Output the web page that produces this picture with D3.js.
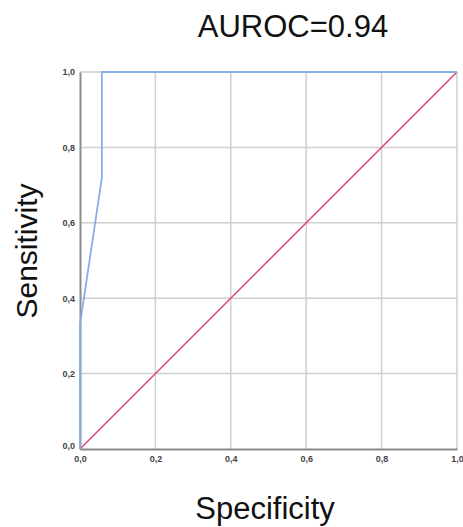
<!DOCTYPE html>
<html>
<head>
<meta charset="utf-8">
<script src="https://cdn.jsdelivr.net/npm/d3@7"></script>
<style>
  body { margin: 0; background: #fff; }
  text { font-family: "Liberation Sans", Arial, sans-serif; }
</style>
</head>
<body>
<div id="chart"></div>
<script>
// data
var rocFpr = [0, 0, 0.058, 0.058, 1];
var rocTpr = [0, 0.33, 0.72, 1, 1];
var refLine = [0, 1];
var tickValues = [0, 0.2, 0.4, 0.6, 0.8, 1];
var tickLabels = ["0,0", "0,2", "0,4", "0,6", "0,8", "1,0"];
var titleText = "AUROC=0.94";

var width = 463, height = 527;
var margin = { top: 72, right: 6, bottom: 78, left: 80 };
var w = width - margin.left - margin.right,
    h = height - margin.top - margin.bottom;

var svg = d3.select("#chart")
    .append("svg")
    .attr("width", width)
    .attr("height", height);

var g = svg.append("g")
    .attr("transform", "translate(" + margin.left + "," + margin.top + ")");

var xScale = d3.scaleLinear().domain([0, 1]).range([0, w]);
var yScale = d3.scaleLinear().domain([0, 1]).range([h, 0]);

// grid lines
g.selectAll(".vgrid")
    .data(tickValues.slice(1))
    .enter()
    .append("line")
    .attr("x1", d => xScale(d))
    .attr("x2", d => xScale(d))
    .attr("y1", 0)
    .attr("y2", h)
    .style("stroke", "#cfcfcf")
    .style("stroke-width", 1.5);

g.selectAll(".hgrid")
    .data(tickValues.slice(1))
    .enter()
    .append("line")
    .attr("x1", 0)
    .attr("x2", w)
    .attr("y1", d => yScale(d))
    .attr("y2", d => yScale(d))
    .style("stroke", "#cfcfcf")
    .style("stroke-width", 1.5);

// axes
var xAxis = d3.axisBottom(xScale)
    .tickValues(tickValues)
    .tickFormat((d, i) => tickLabels[i])
    .tickSize(0)
    .tickPadding(7);

var yAxis = d3.axisLeft(yScale)
    .tickValues(tickValues)
    .tickFormat((d, i) => tickLabels[i])
    .tickSize(0)
    .tickPadding(5);

var gx = g.append("g")
    .attr("transform", "translate(0," + h + ")")
    .call(xAxis);

var gy = g.append("g").call(yAxis);

[gx, gy].forEach(function (a) {
    a.select(".domain").style("stroke", "#8c8c8c").style("stroke-width", 2);
    a.selectAll("text")
        .style("font-size", "9px")
        .style("font-weight", "bold")
        .style("fill", "#444")
        .style("font-family", "'Liberation Sans', Arial, sans-serif");
});
gy.selectAll("text").filter(d => d === 0).attr("dy", "-0.1em");

// reference diagonal
var ref = refLine.map(d => [d, d]);
g.append("path")
    .datum(ref)
    .attr("d", d3.line().x(d => xScale(d[0])).y(d => yScale(d[1])))
    .style("fill", "none")
    .style("stroke", "#e0476c")
    .style("stroke-width", 1.5);

// roc curve
var roc = rocFpr.map((d, i) => [d, rocTpr[i]]);
g.append("path")
    .datum(roc)
    .attr("d", d3.line().x(d => xScale(d[0])).y(d => yScale(d[1])))
    .style("fill", "none")
    .style("stroke", "#88aee8")
    .style("stroke-width", 1.8);

// title
svg.append("text")
    .attr("x", 293)
    .attr("y", 37)
    .attr("text-anchor", "middle")
    .style("font-size", "31px")
    .style("fill", "#111")
    .text(titleText);

// axis titles
svg.append("text")
    .attr("x", 265)
    .attr("y", 519)
    .attr("text-anchor", "middle")
    .style("font-size", "31px")
    .style("fill", "#111")
    .text("Specificity");

svg.append("text")
    .attr("transform", "translate(37,251) rotate(-90)")
    .attr("text-anchor", "middle")
    .style("font-size", "30px")
    .style("fill", "#111")
    .text("Sensitivity");
</script>
</body>
</html>
